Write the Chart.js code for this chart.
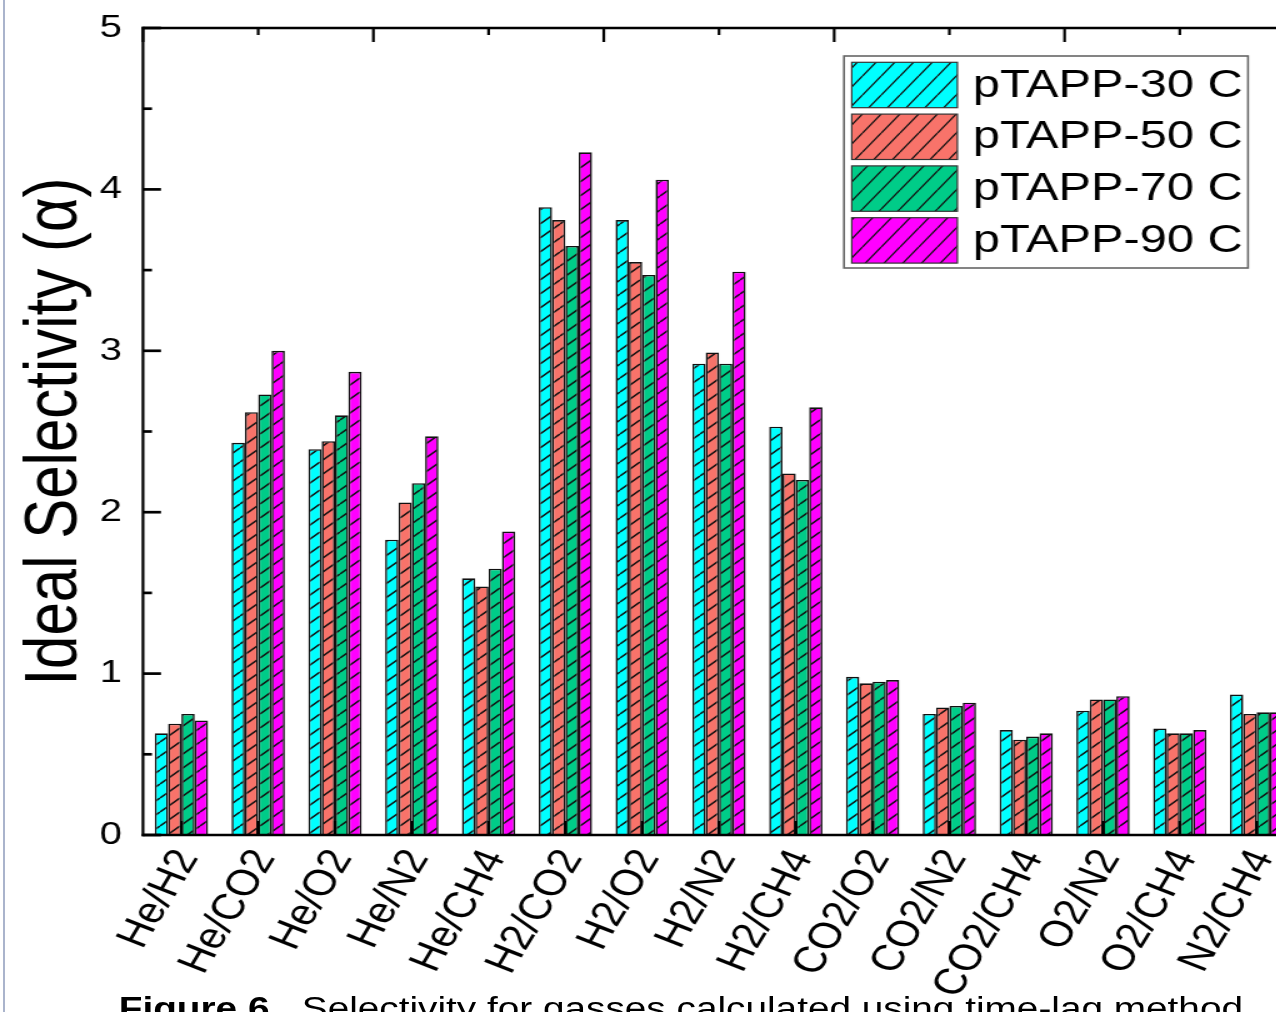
<!DOCTYPE html>
<html>
<head>
<meta charset="utf-8">
<script src="https://cdn.jsdelivr.net/npm/chart.js@4.4.0/dist/chart.umd.min.js"></script>
<style>
html,body{margin:0;padding:0;background:#fff;overflow:hidden;width:1276px;height:1012px;}
#edge{position:absolute;left:3px;top:0;width:2px;height:1012px;background:#aab4cc;}
#wrap{position:absolute;left:0;top:0;width:1040px;height:1012px;transform:scaleX(1.25);transform-origin:0 0;}
#c{position:absolute;left:0;top:0;}
#caption{position:absolute;left:95px;top:993px;font-family:'Liberation Sans',Arial,sans-serif;font-size:31px;line-height:31px;white-space:nowrap;color:#000;}
</style>
</head>
<body>
<div id="wrap">
  <canvas id="c" width="1040" height="1012"></canvas>
  <div id="caption"><b>Figure 6.</b>&nbsp; Selectivity for gasses calculated using time-lag method</div>
</div>
<div id="edge"></div>
<script>
// ---- data ----
const categories = ['He/H2','He/CO2','He/O2','He/N2','He/CH4','H2/CO2','H2/O2','H2/N2','H2/CH4','CO2/O2','CO2/N2','CO2/CH4','O2/N2','O2/CH4','N2/CH4'];
const seriesNames = ['pTAPP-30 C','pTAPP-50 C','pTAPP-70 C','pTAPP-90 C'];
const pTAPP30 = [0.63,2.43,2.39,1.83,1.59,3.89,3.81,2.92,2.53,0.98,0.75,0.65,0.77,0.66,0.87];
const pTAPP50 = [0.69,2.62,2.44,2.06,1.54,3.81,3.55,2.99,2.24,0.94,0.79,0.59,0.84,0.63,0.75];
const pTAPP70 = [0.75,2.73,2.60,2.18,1.65,3.65,3.47,2.92,2.20,0.95,0.80,0.61,0.84,0.63,0.76];
const pTAPP90 = [0.71,3.00,2.87,2.47,1.88,4.23,4.06,3.49,2.65,0.96,0.82,0.63,0.86,0.65,0.76];
const yTickLabels = ['0','1','2','3','4','5'];
const yTitle = 'Ideal Selectivity (\u03B1)';

// ---- styles ----
const seriesValues = [pTAPP30, pTAPP50, pTAPP70, pTAPP90];
const colors = ['#00FFFF','#F8736A','#00CC88','#FF00FF'];
const FONT = "'Liberation Sans', Arial, sans-serif";
Chart.defaults.font.family = FONT;
Chart.defaults.color = '#000';

function hatch(color, w, h, lw){
  const c = document.createElement('canvas');
  c.width = w; c.height = h;
  const g = c.getContext('2d');
  g.fillStyle = color; g.fillRect(0,0,w,h);
  g.strokeStyle = '#111'; g.lineWidth = lw;
  for (let k=-1;k<=1;k++){
    g.beginPath();
    g.moveTo(k*w, h); g.lineTo(w + k*w, 0);
    g.stroke();
  }
  return g.createPattern(c,'repeat');
}
const ctx = document.getElementById('c').getContext('2d');
const barPatterns = colors.map(c => hatch(c, 16, 14, 1.5));
const legendPatterns = colors.map(c => hatch(c, 15, 19, 1.3));

function seg(g,x1,y1,x2,y2){ g.beginPath(); g.moveTo(x1,y1); g.lineTo(x2,y2); g.stroke(); }

const framePlugin = {
  id:'frame',
  afterDatasetsDraw(chart){
    const g = chart.ctx, a = chart.chartArea, x = chart.scales.x, y = chart.scales.y;
    g.save();
    g.strokeStyle = '#000'; g.lineCap = 'butt';
    g.lineWidth = 2.7;
    for (let v=0; v<=5.001; v+=0.5){
      const py = y.getPixelForValue(v);
      const major = Math.abs(v - Math.round(v)) < 1e-6;
      const len = major ? 14.4 : 7.2;
      seg(g, a.left, py, a.left+len, py);
      seg(g, a.right, py, a.right-len, py);
    }
    g.lineWidth = 2.2;
    categories.forEach((c,i)=>{ const px = x.getPixelForValue(i); seg(g, px, a.bottom, px, a.bottom-14); });
    for (let k=-0.5; k<=14.5; k+=1.5){
      const px = x.getPixelForValue(k);
      const long = Math.abs(((k+0.5)/3) - Math.round((k+0.5)/3)) < 1e-6;
      seg(g, px, a.top, px, a.top + (long ? 14 : 7));
    }
    g.lineWidth = 2.7;
    seg(g, a.left-1.1, a.bottom, a.right+1.1, a.bottom);
    seg(g, a.left-1.1, a.top, a.right+1.1, a.top);
    g.lineWidth = 2.2;
    seg(g, a.left, a.top-1.35, a.left, a.bottom+1.35);
    seg(g, a.right, a.top-1.35, a.right, a.bottom+1.35);
    g.restore();
  }
};

const legendPlugin = {
  id:'boxLegend',
  afterDraw(chart){
    const g = chart.ctx;
    g.save();
    g.fillStyle = '#fff';
    g.fillRect(675.2, 56, 323.2, 212);
    g.strokeStyle = '#666'; g.lineWidth = 1.6;
    g.strokeRect(675.2, 56, 323.2, 212);
    chart.data.datasets.forEach((ds,i)=>{
      const top = 62.3 + i*51.8;
      g.fillStyle = legendPatterns[i];
      g.fillRect(681.4, top, 84.5, 45.4);
      g.strokeStyle = '#333'; g.lineWidth = 1.2;
      g.strokeRect(681.4, top, 84.5, 45.4);
      g.fillStyle = '#000';
      g.font = "39px " + FONT;
      g.textAlign = 'left'; g.textBaseline = 'middle';
      g.fillText(ds.label, 778.2, top + 23.5);
    });
    g.restore();
  }
};

new Chart(ctx, {
  type:'bar',
  data:{
    labels: categories,
    datasets: seriesValues.map((v,i)=>({
      label: seriesNames[i], data: v,
      backgroundColor: barPatterns[i],
      borderColor:'#111', borderWidth:1.6,
      categoryPercentage:0.694, barPercentage:1.0
    }))
  },
  options:{
    responsive:false, animation:false, devicePixelRatio:1,
    layout:{padding:{left:0, top:28, right:4, bottom:0}},
    plugins:{legend:{display:false}, tooltip:{enabled:false}},
    scales:{
      x:{
        grid:{display:false, drawTicks:false}, border:{display:false},
        ticks:{autoSkip:false, maxRotation:64, minRotation:64, padding:8, labelOffset:5,
               font:{size:36.5}, color:'#000'},
        afterFit(s){ s.height = 177; s.paddingLeft = 0; s.paddingRight = 0; }
      },
      y:{
        min:0, max:5,
        grid:{display:false, drawTicks:false}, border:{display:false},
        ticks:{stepSize:1, padding:16.8, font:{size:32}, color:'#000',
               callback:(v)=> yTickLabels[Math.round(v)]},
        title:{display:true, text:yTitle, color:'#000', font:{size:60, lineHeight:1}, padding:{top:14, bottom:0}},
        afterFit(s){ s.width = 114.4; s.paddingTop = 0; s.paddingBottom = 0; }
      }
    }
  },
  plugins:[framePlugin, legendPlugin]
});
</script>
</body>
</html>
